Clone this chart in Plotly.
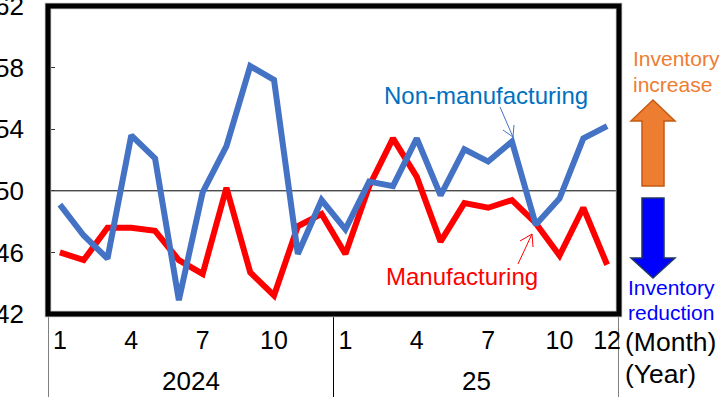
import plotly.graph_objects as go

W, H = 722, 405
L, R, T, B = 48, 619, 6, 314

months = list(range(1, 25))
non_manufacturing = [49.1, 47.1, 45.6, 53.6, 52.1, 42.9, 49.9, 52.9, 58.1, 57.2, 45.9, 49.4,
                     47.5, 50.6, 50.3, 53.4, 49.7, 52.7, 51.9, 53.2, 47.8, 49.5, 53.4, 54.2]
manufacturing = [46.0, 45.5, 47.6, 47.6, 47.4, 45.5, 44.6, 50.2, 44.7, 43.2, 47.7, 48.5,
                 45.9, 50.3, 53.4, 50.9, 46.7, 49.2, 48.9, 49.4, 47.9, 45.8, 48.9, 45.2]
y_ticks = [42, 46, 50, 54, 58, 62]
x_tick_vals = [1, 4, 7, 10, 13, 16, 19, 22, 24]
x_tick_text = ["1", "4", "7", "10", "1", "4", "7", "10", "12"]
year_labels = ["2024", "25"]
year_centers = [6.5, 18.5]
year_dividers = [0.5, 12.5, 24.5]


def px(x):
    return (x - L) / (R - L)


def py(y):
    return (B - y) / (B - T)


def path(points, close=False):
    s = "M" + " L".join(f"{px(x):.5f},{py(y):.5f}" for x, y in points)
    return s + (" Z" if close else "")


fig = go.Figure()
fig.add_trace(go.Scatter(x=months, y=manufacturing, mode="lines", name="Manufacturing",
                         line=dict(color="#FF0000", width=6)))
fig.add_trace(go.Scatter(x=months, y=non_manufacturing, mode="lines", name="Non-manufacturing",
                         line=dict(color="#4472C4", width=6)))

FONT = "Liberation Sans"
shapes = [
    dict(type="line", xref="paper", yref="y", x0=0, x1=1, y0=50, y1=50,
         line=dict(color="black", width=1), layer="below"),
]
for d in year_dividers:
    shapes.append(dict(type="line", xref="x", yref="paper", x0=d, x1=d, y0=0, y1=py(397),
                       line=dict(color="black", width=1)))
shapes += [
    dict(type="rect", xref="paper", yref="paper", x0=0, x1=1, y0=0, y1=1,
         line=dict(color="#B8B8B8", width=6.5), layer="above"),
    dict(type="rect", xref="paper", yref="paper", x0=0, x1=1, y0=0, y1=1,
         line=dict(color="black", width=5), layer="above"),
]
# Big arrows
shapes.append(dict(type="path", xref="paper", yref="paper",
                   path=path([(653, 100), (675, 121), (664, 121), (664, 186), (642, 186), (642, 121), (631, 121)], True),
                   fillcolor="#ED7D31", line=dict(color="#C55A11", width=1.5)))
shapes.append(dict(type="path", xref="paper", yref="paper",
                   path=path([(642, 198), (664, 198), (664, 258), (675, 258), (653, 278), (631, 258), (642, 258)], True),
                   fillcolor="#0000FF", line=dict(color="#1F3864", width=1.5)))
# Thin callout arrows
shapes.append(dict(type="path", xref="paper", yref="paper",
                   path=path([(500, 107), (513, 137)]) + " " + path([(503, 130), (513, 137), (514, 125)]),
                   line=dict(color="#4472C4", width=1)))
shapes.append(dict(type="path", xref="paper", yref="paper",
                   path=path([(518, 264), (532, 234)]) + " " + path([(520, 241), (532, 234), (533, 247)]),
                   line=dict(color="#FF0000", width=1)))


def label(text, x, y, color, size, anchor="left"):
    return dict(text=text, xref="paper", yref="paper", x=px(x), y=py(y), xanchor=anchor, yanchor="middle",
                showarrow=False, font=dict(color=color, size=size, family=FONT))


annotations = [
    label("Non-manufacturing", 382, 95, "#0070C0", 24),
    label("Manufacturing", 384, 276, "#FF0000", 24),
    label("Inventory", 631, 59, "#ED7D31", 21),
    label("increase", 631, 85, "#ED7D31", 21),
    label("Inventory", 626, 287, "#0000FF", 21),
    label("reduction", 626, 312, "#0000FF", 21),
    label("(Month)", 623, 342, "black", 26.5),
    label("(Year)", 623, 374, "black", 26.5),
]
for t, c in zip(year_labels, year_centers):
    annotations.append(dict(text=t, xref="x", yref="paper", x=c, y=py(381), xanchor="center", yanchor="middle",
                            showarrow=False, font=dict(color="black", size=26, family=FONT)))

fig.update_layout(
    width=W, height=H, autosize=False,
    margin=dict(l=L, r=W - R, t=T, b=H - B, pad=0),
    paper_bgcolor="white", plot_bgcolor="white", showlegend=False,
    font=dict(family=FONT, color="black"),
    xaxis=dict(range=[0.5, 24.5], tickmode="array", tickvals=x_tick_vals, ticktext=x_tick_text,
               showgrid=False, zeroline=False, ticks="", tickfont=dict(size=25, family=FONT),
               ticklabelstandoff=9, tickangle=0, automargin=False, ticklabeloverflow="allow"),
    yaxis=dict(range=[42, 62], tickmode="array", tickvals=y_ticks, showgrid=False, zeroline=False,
               ticks="inside", ticklen=7, tickcolor="#333333", tickwidth=1,
               tickfont=dict(size=26, family=FONT), ticklabelstandoff=23, automargin=False,
               ticklabeloverflow="allow"),
    shapes=shapes, annotations=annotations,
)
fig.write_html("out.html", config={"displayModeBar": False},
               post_script="document.body.style.margin='0';document.documentElement.style.overflow='hidden';")
